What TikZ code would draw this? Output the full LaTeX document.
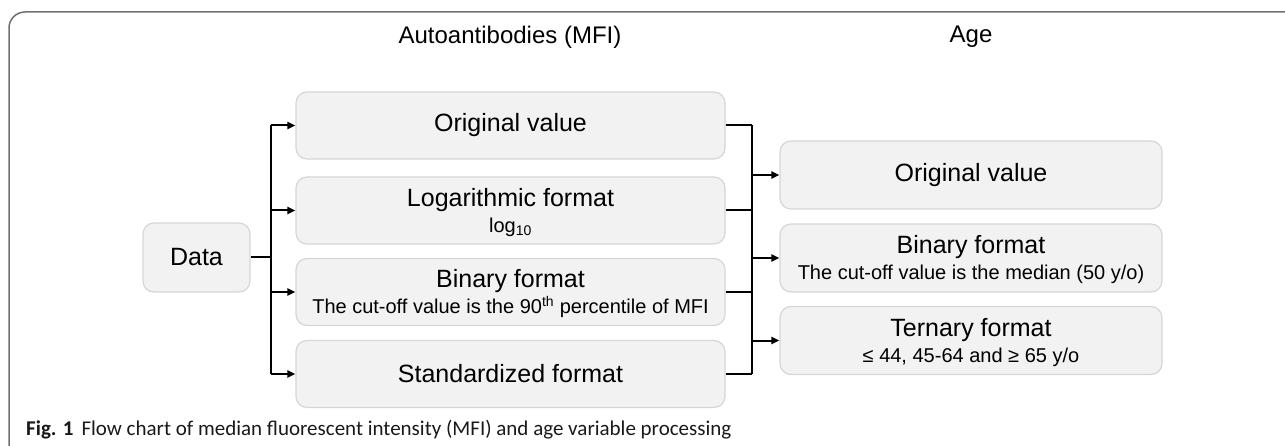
\documentclass[tikz,border=0pt]{standalone}
\usepackage{fontspec}
\setmainfont{Liberation Sans}
\newfontfamily\capfont{Carlito}
\usetikzlibrary{arrows.meta}
\definecolor{boxfill}{HTML}{F2F2F2}
\definecolor{boxline}{HTML}{D6D6D6}
\definecolor{framec}{HTML}{707070}
\newcommand\bigtxt{\fontsize{25}{29}\selectfont}
\newcommand\subtxt{\fontsize{20}{26}\selectfont}
\newcommand\topstrut{\rule{0pt}{22pt}}
\tikzset{
  box/.style={draw=boxline, fill=boxfill, line width=1.2pt, rounded corners=11pt,
    align=center, inner sep=0pt, font=\bigtxt},
  mfibox/.style={box, minimum width=429pt, minimum height=67pt},
  agebox/.style={box, minimum width=382pt, minimum height=68pt},
  conn/.style={line width=2pt, black},
  arr/.style={conn, -{Triangle[length=8pt,width=7pt]}},
  hdr/.style={font=\fontsize{24}{28}\selectfont, inner sep=0pt},
}
\begin{document}
\begin{tikzpicture}[x=1pt,y=-1pt]
\useasboundingbox (0,0) rectangle (1285,446);
% frame
\draw[framec, line width=1.5pt, rounded corners=16pt] (9,460) -- (9,12) -- (1300,12);
% headers
\node[hdr] (h1) at (510,37) {Autoantibodies (MFI)};
\node[hdr] (h2) at (971,37) {Age};
% data
\node[box, minimum width=107pt, minimum height=69pt] (data) at (196.5,257.5) {Data};
% MFI boxes
\node[mfibox] (m1) at (510.5,125.5) {Original value};
\node[mfibox] (m2) at (510.5,210.5) {\topstrut Logarithmic format\\[-3pt]{\subtxt log\textsubscript{10}}};
\node[mfibox] (m3) at (510.5,292) {\topstrut Binary format\\[-3pt]{\subtxt The cut-off value is the 90\textsuperscript{th} percentile of MFI}};
\node[mfibox] (m4) at (510.5,374) {Standardized format};
% age boxes
\node[agebox] (a1) at (971,175) {Original value};
\node[agebox] (a2) at (971,258) {\topstrut Binary format\\[-3pt]{\subtxt The cut-off value is the median (50 y/o)}};
\node[agebox] (a3) at (971,340.5) {\topstrut Ternary format\\[-3pt]{\subtxt ≤ 44, 45-64 and ≥ 65 y/o}};
% left connectors
\coordinate (jl) at (271,257.5);
\draw[conn] (data.east) -- (jl);
\draw[conn] (jl |- m1.west) -- (jl |- m4.west);
\foreach \m in {m1,m2,m3,m4} \draw[arr] (jl |- \m.west) -- (\m.west);
% right connectors
\coordinate (jr) at (752,250);
\foreach \m in {m1,m2,m3,m4} \draw[conn] (\m.east) -- (jr |- \m.east);
\draw[conn] (jr |- m1.east) -- (jr |- m4.east);
\foreach \a in {a1,a2,a3} \draw[arr] (jr |- \a.west) -- (\a.west);
% caption
\node[anchor=west, inner sep=0pt, font=\capfont\fontsize{21}{24}\selectfont, text=black!90] (cap) at (26,430)
  {\textbf{Fig. 1}\hspace{8pt}Flow chart of median fluorescent intensity (MFI) and age variable processing};
\end{tikzpicture}
\end{document}
